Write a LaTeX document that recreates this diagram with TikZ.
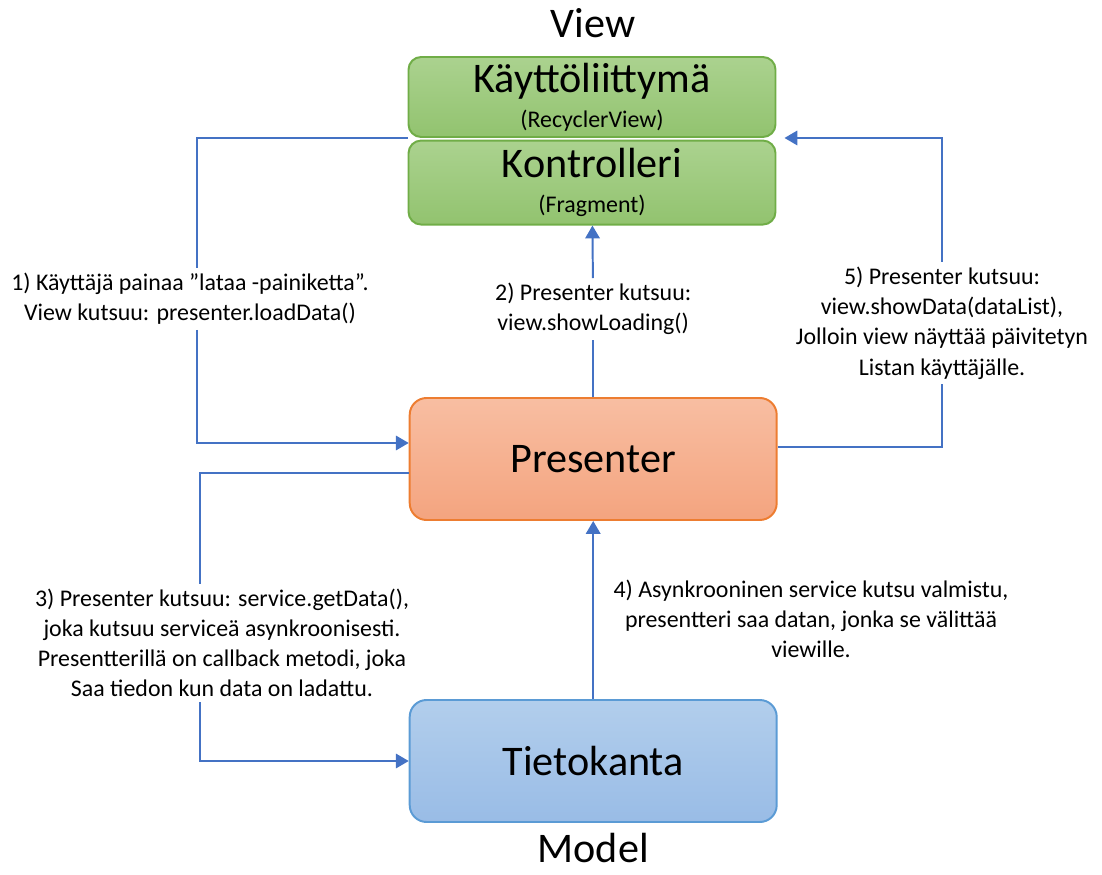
\documentclass[tikz,border=0pt]{standalone}
\usepackage{fontspec}
\setmainfont{Carlito}
\usetikzlibrary{arrows.meta,positioning,calc}
\definecolor{cview}{HTML}{ABD28F}
\definecolor{cviewlow}{HTML}{92C36F}
\definecolor{cviewborder}{HTML}{70AD47}
\definecolor{cpres}{HTML}{F8BEA2}
\definecolor{cpreslow}{HTML}{F4A47F}
\definecolor{cpresborder}{HTML}{ED7D31}
\definecolor{cmodel}{HTML}{B2CEEC}
\definecolor{cmodellow}{HTML}{99BCE6}
\definecolor{cmodelborder}{HTML}{5B9BD5}
\definecolor{carrow}{HTML}{4472C4}

\begin{document}
\begin{tikzpicture}[
    node distance=0.04cm,
    vnode/.style={draw=cviewborder, top color=cview, bottom color=cviewlow, line width=1.4pt,
                  rounded corners=9pt, align=center, minimum width=9.175cm, inner ysep=1pt,
                  font=\fontsize{30}{32}\selectfont},
    pnode/.style={draw=cpresborder, top color=cpres, bottom color=cpreslow, line width=1.4pt,
                  rounded corners=12pt, minimum width=9.175cm, minimum height=3.05cm,
                  font=\fontsize{30}{32}\selectfont},
    mnode/.style={draw=cmodelborder, top color=cmodel, bottom color=cmodellow, line width=1.4pt,
                  rounded corners=12pt, minimum width=9.175cm, minimum height=3.05cm,
                  font=\fontsize{30}{32}\selectfont},
    tier/.style={anchor=base, inner sep=0pt, font=\fontsize{30}{32}\selectfont},
    note/.style={align=center, inner sep=1.2mm, font=\fontsize{17}{21.5}\selectfont},
    arr/.style={-{Triangle[length=3.2mm,width=3.6mm]}, line width=1.4pt, draw=carrow},
    link/.style={line width=1.4pt, draw=carrow}
]
\useasboundingbox (0,0) rectangle (27.55,21.85);

\node[vnode, minimum height=2cm] (ui) at (14.8,19.425) {Käyttöliittymä\\[-7pt]{\fontsize{17}{18}\selectfont (RecyclerView)}};
\node[vnode, minimum height=2.1cm, below=of ui] (ctrl) {Kontrolleri\\[-7pt]{\fontsize{17}{18}\selectfont (Fragment)}};
\node[tier] (view) at (14.83,20.9) {View};
\node[pnode] (pres) at (14.83,10.375) {Presenter};
\node[mnode] (db) at (14.83,2.825) {Tietokanta};
\node[tier] (model) at (14.83,0.3) {Model};

\node[note] (lbl1) at (4.75,14.375) {1) Käyttäjä painaa ”lataa -painiketta”.\\View kutsuu: presenter.loadData()};
\node[note] (lbl2) at (14.83,14.125) {2) Presenter kutsuu:\\view.showLoading()};
\node[note] (lbl3) at (5.55,5.775) {3) Presenter kutsuu: service.getData(),\\joka kutsuu serviceä asynkroonisesti.\\Presentterillä on callback metodi, joka\\Saa tiedon kun data on ladattu.};
\node[note] (lbl4) at (20.275,6.375) {4) Asynkrooninen service kutsu valmistu,\\presentteri saa datan, jonka se välittää\\viewille.};
\node[note] (lbl5) at (23.55,13.775) {5) Presenter kutsuu:\\view.showData(dataList),\\Jolloin view näyttää päivitetyn\\Listan käyttäjälle.};

% 1) view -> presenter
\draw[link] (ui.south west) -| ([xshift=1.7mm]lbl1.north);
\draw[arr] ([xshift=1.7mm]lbl1.south) |- ([yshift=4mm]pres.west);
% 2) presenter -> view
\draw[link] (pres) -- (lbl2);
\draw[arr] (lbl2) -- (ctrl);
% 3) presenter -> model
\draw[link] ([yshift=-3.5mm]pres.west) -| ([xshift=-5.5mm]lbl3.north);
\draw[arr] ([xshift=-5.5mm]lbl3.south) |- (db.west);
% 4) model -> presenter
\draw[arr] (db) -- (pres);
% 5) presenter -> view
\draw[link] ([yshift=3mm]pres.east) -| (lbl5.south);
\draw[arr] (lbl5.north) |- ([xshift=2mm]ui.south east);
\end{tikzpicture}
\end{document}
